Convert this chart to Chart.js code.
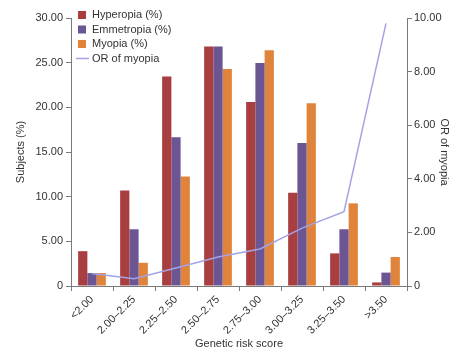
<!DOCTYPE html>
<html>
<head>
<meta charset="utf-8">
<script src="https://cdn.jsdelivr.net/npm/chart.js@4"></script>
<style>
  html, body { margin: 0; padding: 0; background: #fff; overflow: hidden; }
  #wrap { width: 451px; height: 352px; }
</style>
</head>
<body>
<div id="wrap"><canvas id="chart"></canvas></div>
<script>
const categories = ['<2.00', '2.00\u20132.25', '2.25\u20132.50', '2.50\u20132.75', '2.75\u20133.00', '3.00\u20133.25', '3.25\u20133.50', '>3.50'];
const hyperopia = [3.9, 10.7, 23.45, 26.8, 20.6, 10.45, 3.65, 0.4];
const emmetropia = [1.45, 6.35, 16.65, 26.8, 24.95, 16.0, 6.35, 1.5];
const myopia = [1.45, 2.6, 12.25, 24.3, 26.4, 20.45, 9.25, 3.25];
const orMyopia = [0.47, 0.27, 0.67, 1.08, 1.38, 2.16, 2.77, 9.8];

const axisColor = '#7a7a7a';
const textColor = '#333333';
const fontFamily = '"Liberation Sans", Arial, sans-serif';

// draws the legend box in the upper left of the plot
const cornerLegend = {
    id: 'cornerLegend',
    afterDraw(chart) {
        const ctx = chart.ctx;
        const x = chart.chartArea.left + 7;
        let y = 15;
        ctx.save();
        ctx.font = '11px ' + fontFamily;
        ctx.textBaseline = 'middle';
        chart.data.datasets.forEach(ds => {
            if (ds.type === 'line') {
                ctx.strokeStyle = ds.borderColor;
                ctx.lineWidth = 1.5;
                ctx.beginPath();
                ctx.moveTo(x - 2, y);
                ctx.lineTo(x + 11, y);
                ctx.stroke();
            } else {
                ctx.fillStyle = ds.backgroundColor;
                ctx.fillRect(x, y - 4, 8, 8);
            }
            ctx.fillStyle = textColor;
            ctx.fillText(ds.label, x + 14, y);
            y += 14.5;
        });
        ctx.restore();
    }
};

const fmt = v => v === 0 ? '0' : v.toFixed(2);

new Chart(document.getElementById('chart'), {
    type: 'bar',
    data: {
        labels: categories,
        datasets: [
            { label: 'Hyperopia (%)', data: hyperopia, backgroundColor: '#a83e40', order: 1 },
            { label: 'Emmetropia (%)', data: emmetropia, backgroundColor: '#6b5592', order: 1 },
            { label: 'Myopia (%)', data: myopia, backgroundColor: '#df843a', order: 1 },
            {
                type: 'line', label: 'OR of myopia', data: orMyopia, yAxisID: 'y1',
                borderColor: '#a3a3e6', borderWidth: 1.5, pointRadius: 0,
                tension: 0, order: 0
            }
        ]
    },
    options: {
        responsive: true,
        maintainAspectRatio: false,
        animation: false,
        layout: { padding: { top: 18, bottom: 0, left: 14 } },
        plugins: {
            legend: { display: false },
            tooltip: { enabled: false }
        },
        datasets: {
            bar: { categoryPercentage: 0.66, barPercentage: 1.0 }
        },
        scales: {
            x: {
                grid: { drawOnChartArea: false, color: axisColor, tickLength: 5 },
                border: { color: axisColor },
                ticks: { color: textColor, font: { size: 11, family: fontFamily }, maxRotation: 45, minRotation: 45, padding: 2 },
                title: { display: true, text: 'Genetic risk score', color: textColor, font: { size: 11, family: fontFamily }, padding: { top: 2, bottom: 1 } },
                afterFit: s => { s.height = 66; }
            },
            y: {
                position: 'left',
                min: 0, max: 30,
                ticks: { stepSize: 5, color: textColor, font: { size: 11, family: fontFamily }, callback: fmt, padding: 3 },
                grid: { drawOnChartArea: false, color: axisColor, tickLength: 5 },
                border: { color: axisColor },
                title: { display: true, text: 'Subjects (%)', color: textColor, font: { size: 11, family: fontFamily }, padding: { top: 0, bottom: 4 } },
                afterFit: s => { s.width = 57; }
            },
            y1: {
                position: 'right',
                min: 0, max: 10,
                ticks: { stepSize: 2, color: textColor, font: { size: 11, family: fontFamily }, callback: fmt, padding: 2 },
                grid: { drawOnChartArea: false, color: axisColor, tickLength: 5 },
                border: { color: axisColor },
                title: { display: true, text: 'OR of myopia', color: textColor, font: { size: 11, family: fontFamily }, padding: { top: 0, bottom: 0 } },
                afterFit: s => { s.width = 44; }
            }
        }
    },
    plugins: [cornerLegend]
});
</script>
</body>
</html>
